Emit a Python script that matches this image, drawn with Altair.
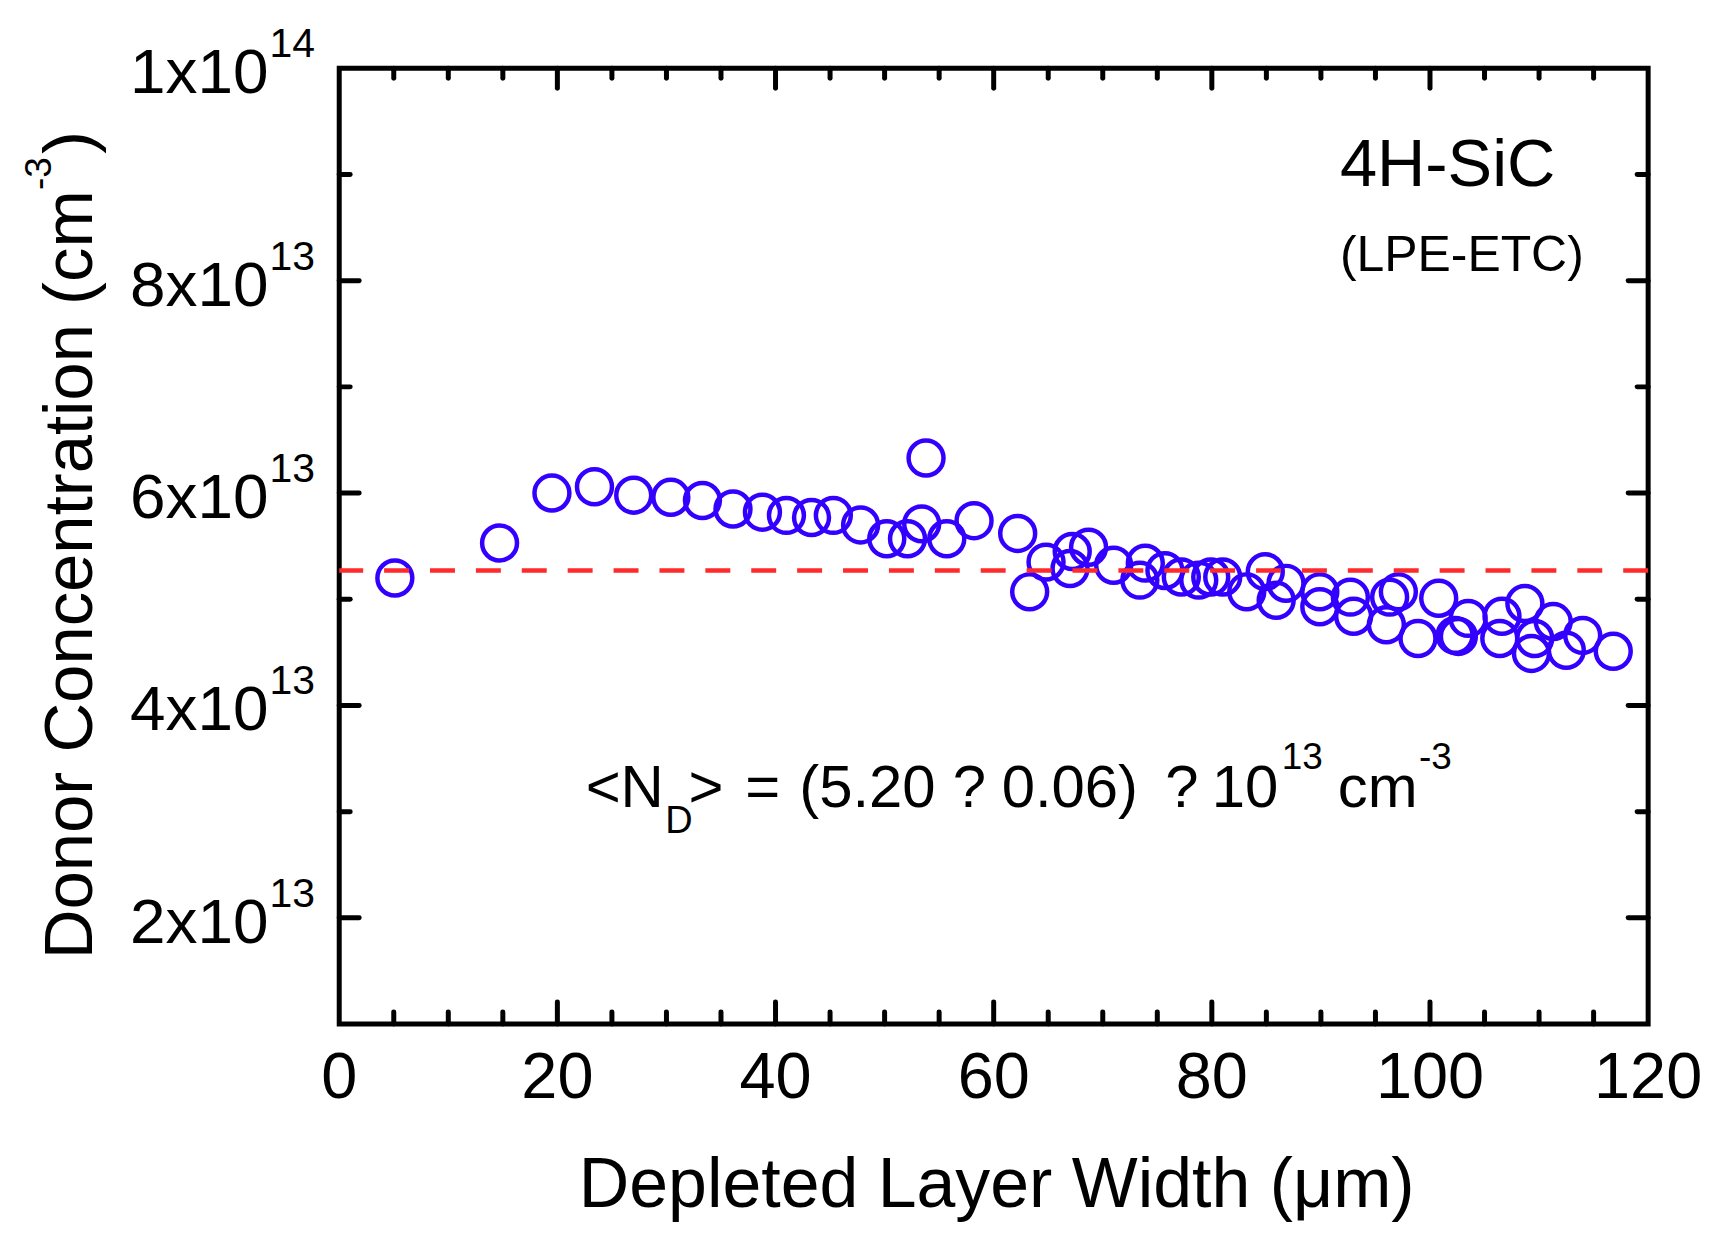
import altair as alt
import pandas as pd

# ---- data (donor concentration in units of 1e13 cm^-3) ----
WIDTH_UM = [5.1, 14.7, 19.5, 23.4, 27.0, 30.4, 33.3, 36.1, 38.8, 41.0,
            43.3, 45.3, 47.8, 50.2, 52.1, 53.4, 53.8, 55.7, 58.2, 62.2,
            63.3, 64.8, 67.0, 67.2, 68.7, 71.0, 73.4, 73.9, 75.7, 77.2,
            78.8, 79.9, 81.0, 83.2, 84.9, 85.9, 86.8, 89.9, 89.9, 92.7,
            93.0, 96.0, 96.3, 97.1, 98.9, 100.8, 102.3, 102.6, 103.5, 106.4,
            106.6, 108.7, 109.3, 109.6, 111.3, 112.5, 114.0, 116.8]
ND_E13 = [5.20, 5.53, 6.00, 6.06, 5.98, 5.96, 5.93, 5.85, 5.82, 5.79,
          5.77, 5.79, 5.70, 5.57, 5.57, 5.71, 6.33, 5.57, 5.74, 5.62,
          5.07, 5.35, 5.29, 5.45, 5.49, 5.32, 5.18, 5.34, 5.27, 5.21,
          5.18, 5.21, 5.21, 5.07, 5.26, 4.99, 5.15, 5.07, 4.93, 5.02,
          4.84, 4.76, 5.02, 5.07, 4.63, 5.01, 4.66, 4.65, 4.82, 4.63,
          4.84, 4.96, 4.49, 4.63, 4.79, 4.52, 4.66, 4.51]
MEAN_LINE = [5.27]

X_LABELS = [0, 20, 40, 60, 80, 100, 120]
X_MAJOR = [20, 40, 60, 80, 100]
X_MINOR = [5, 10, 15, 25, 30, 35, 45, 50, 55, 65, 70, 75, 85, 90, 95, 105, 110, 115]
Y_LABEL_VALUES = [2, 4, 6, 8, 10]
Y_LABEL_MAIN = ["2x10", "4x10", "6x10", "8x10", "1x10"]
Y_LABEL_EXP = ["13", "13", "13", "13", "14"]
Y_MAJOR = [2, 4, 6, 8]
Y_MINOR = [3, 5, 7, 9]

W, H = 1312, 958
FONT = "Liberation Sans"
BLUE = "#3300ff"
RED = "#ff2a2a"

xs = alt.Scale(domain=[0, 120], nice=False, zero=False)
ys = alt.Scale(domain=[1, 10], nice=False, zero=False)

pts = pd.DataFrame({"w": WIDTH_UM, "nd": ND_E13})

points = alt.Chart(pts).mark_point(
    shape="circle", filled=False, size=1225, strokeWidth=4.5, color=BLUE, opacity=1
).encode(
    x=alt.X("w:Q", scale=xs, axis=None),
    y=alt.Y("nd:Q", scale=ys, axis=None),
)

mean_rule = alt.Chart(pd.DataFrame({"m": MEAN_LINE})).mark_rule(
    color=RED, strokeWidth=4.5, strokeDash=[25, 21]
).encode(y=alt.Y("m:Q", scale=ys, axis=None))

def xticks(vals, length, top):
    d = pd.DataFrame({"v": vals})
    if top:
        y0, y1 = 0, length
    else:
        y0, y1 = H, H - length
    return alt.Chart(d).mark_rule(color="black", strokeWidth=5, strokeCap="round").encode(
        x=alt.X("v:Q", scale=xs, axis=None), y=alt.value(y0), y2=alt.value(y1))

def yticks(vals, length, left):
    d = pd.DataFrame({"v": vals})
    if left:
        x0, x1 = 0, length
    else:
        x0, x1 = W, W - length
    return alt.Chart(d).mark_rule(color="black", strokeWidth=5, strokeCap="round").encode(
        y=alt.Y("v:Q", scale=ys, axis=None), x=alt.value(x0), x2=alt.value(x1))

ticks = [
    xticks(X_MAJOR, 22, False), xticks(X_MINOR, 12, False),
    xticks(X_MAJOR, 20, True), xticks(X_MINOR, 10, True),
    yticks(Y_MAJOR, 20, True), yticks(Y_MINOR, 11, True),
    yticks(Y_MAJOR, 20, False), yticks(Y_MINOR, 11, False),
]

# x tick labels
xlab = alt.Chart(pd.DataFrame({"v": X_LABELS, "t": [str(v) for v in X_LABELS]})).mark_text(
    font=FONT, fontSize=65, color="black", align="center", baseline="alphabetic"
).encode(x=alt.X("v:Q", scale=xs, axis=None), y=alt.value(H + 74), text="t:N")

# y tick labels with superscripts
ylab_df = pd.DataFrame({"v": Y_LABEL_VALUES, "t": Y_LABEL_MAIN, "e": Y_LABEL_EXP})
ylab_main = alt.Chart(ylab_df).mark_text(
    font=FONT, fontSize=64, color="black", align="right", baseline="alphabetic", dy=25
).encode(y=alt.Y("v:Q", scale=ys, axis=None), x=alt.value(-71), text="t:N")
ylab_exp = alt.Chart(ylab_df).mark_text(
    font=FONT, fontSize=41, color="black", align="left", baseline="alphabetic", dy=-11
).encode(y=alt.Y("v:Q", scale=ys, axis=None), x=alt.value(-70), text="e:N")

# axis titles
xtitle = alt.Chart(pd.DataFrame({"t": ["Depleted Layer Width (\u03bcm)"]})).mark_text(
    font=FONT, fontSize=70, color="black", align="center", baseline="alphabetic"
).encode(x=alt.value(W / 2 + 3), y=alt.value(1141), text="t:N")

ytitle_parts = []
for txt, size, xb, ystart in [("Donor Concentration (cm", 69, -248, 893),
                              ("-3", 37, -289, 122),
                              (")", 69, -248, 86)]:
    ytitle_parts.append(
        alt.Chart(pd.DataFrame({"t": [txt]})).mark_text(
            font=FONT, fontSize=size, color="black", align="left",
            baseline="alphabetic", angle=270
        ).encode(x=alt.value(xb), y=alt.value(ystart), text="t:N")
    )

# annotations (in data coordinates)
def note(txt, x, y, size):
    return alt.Chart(pd.DataFrame({"t": [txt]})).mark_text(
        font=FONT, fontSize=size, color="black", align="left", baseline="alphabetic"
    ).encode(x=alt.X(datum=x, scale=xs, axis=None),
             y=alt.Y(datum=y, scale=ys, axis=None), text="t:N")

notes = [
    note("4H-SiC", 91.74, 8.891, 67),
    note("(LPE-ETC)", 91.74, 8.093, 50),
    note("<N", 22.59, 3.048, 60),
    note("D", 29.9, 2.80, 38),
    note(">", 32.01, 3.048, 60),
    note("=", 37.23, 3.048, 60),
    note("(5.20", 42.17, 3.048, 60),
    note("?", 56.25, 3.048, 60),
    note("0.06)", 60.73, 3.048, 60),
    note("?", 75.73, 3.048, 60),
    note("10", 80.0, 3.048, 60),
    note("13", 86.4, 3.40, 37),
    note("cm", 91.55, 3.048, 60),
    note("-3", 99.0, 3.40, 37),
]

chart = alt.layer(
    points, mean_rule, *ticks, xlab, ylab_main, ylab_exp, xtitle, *ytitle_parts, *notes
).properties(
    width=W, height=H,
    autosize=alt.AutoSizeParams(type="none"),
    padding={"left": 332, "top": 59, "right": 62, "bottom": 200},
    background="white",
).configure_view(stroke="black", strokeWidth=5)

chart.save("out.html", embed_options={"renderer": "svg", "actions": False})
